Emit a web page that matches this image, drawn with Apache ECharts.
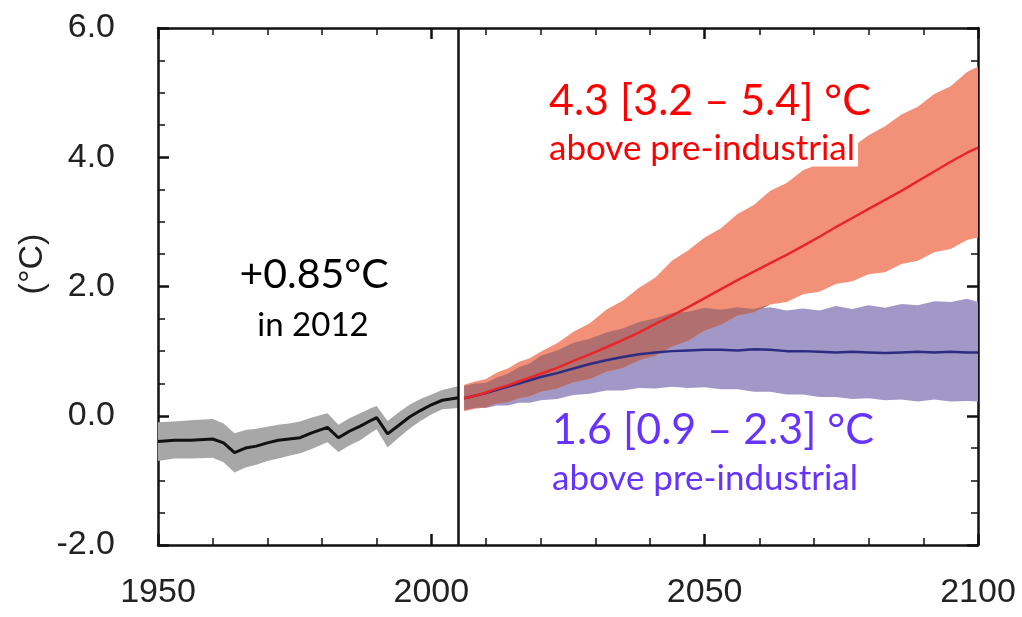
<!DOCTYPE html>
<html>
<head>
<meta charset="utf-8">
<script src="https://cdn.jsdelivr.net/npm/echarts@6/dist/echarts.min.js"></script>
<style>
html,body{margin:0;padding:0;background:#fff;}
#chart{width:1022px;height:617px;}
</style>
</head>
<body>
<div id="chart"></div>
<script>
// ---- Data ----
const xTicks = [1950, 2000, 2050, 2100];
const yTicks = [-2.0, 0.0, 2.0, 4.0, 6.0];

const histYears = [1950,1953,1956,1960,1962,1964,1966,1968,1970,1972,1974,1976,1978,1981,1983,1985,1987,1989,1990,1992,1994,1996,1998,2000,2002,2005];
const histMean  = [-0.40,-0.38,-0.38,-0.36,-0.42,-0.57,-0.50,-0.47,-0.42,-0.38,-0.36,-0.34,-0.27,-0.18,-0.34,-0.24,-0.16,-0.07,-0.03,-0.28,-0.15,-0.02,0.08,0.17,0.24,0.28];
const histLow   = [-0.70,-0.66,-0.66,-0.65,-0.72,-0.88,-0.80,-0.76,-0.70,-0.66,-0.62,-0.58,-0.52,-0.41,-0.56,-0.46,-0.38,-0.26,-0.21,-0.49,-0.34,-0.20,-0.08,0.02,0.10,0.12];
const histHigh  = [-0.10,-0.09,-0.07,-0.05,-0.12,-0.27,-0.22,-0.20,-0.17,-0.14,-0.12,-0.09,-0.03,0.04,-0.14,-0.04,0.04,0.12,0.15,-0.08,0.05,0.17,0.26,0.33,0.40,0.46];

const futureYears = [2006,2008,2010,2012,2014,2016,2018,2020,2023,2026,2029,2032,2035,2038,2041,2044,2047,2050,2053,2056,2059,2062,2065,2068,2071,2074,2077,2080,2083,2086,2089,2092,2095,2098,2100];

const rcp85Mean = [0.27,0.31,0.36,0.42,0.47,0.53,0.59,0.65,0.74,0.85,0.95,1.06,1.17,1.29,1.42,1.55,1.68,1.82,1.96,2.10,2.23,2.36,2.49,2.63,2.77,2.92,3.06,3.20,3.34,3.48,3.63,3.78,3.93,4.07,4.15];
const rcp85High = [0.48,0.53,0.57,0.67,0.73,0.83,0.89,0.99,1.12,1.30,1.43,1.64,1.78,1.98,2.14,2.40,2.56,2.76,2.90,3.12,3.26,3.48,3.60,3.80,3.90,4.06,4.16,4.34,4.48,4.66,4.78,4.98,5.10,5.32,5.40];
const rcp85Low  = [0.07,0.11,0.13,0.19,0.21,0.27,0.30,0.37,0.42,0.52,0.57,0.68,0.74,0.86,0.93,1.07,1.16,1.32,1.41,1.55,1.60,1.72,1.76,1.88,1.92,2.04,2.08,2.19,2.22,2.35,2.40,2.53,2.58,2.72,2.76];

const rcp26Mean = [0.27,0.31,0.35,0.40,0.45,0.50,0.55,0.60,0.66,0.73,0.80,0.86,0.91,0.95,0.98,1.00,1.01,1.02,1.02,1.01,1.03,1.02,1.00,1.00,0.99,0.98,0.99,0.98,0.97,0.98,0.99,0.98,0.99,0.98,0.98];
const rcp26High = [0.46,0.50,0.51,0.59,0.65,0.75,0.81,0.93,1.01,1.13,1.19,1.29,1.35,1.45,1.51,1.59,1.61,1.67,1.64,1.68,1.65,1.68,1.63,1.66,1.63,1.70,1.65,1.71,1.67,1.73,1.71,1.77,1.76,1.81,1.76];
const rcp26Low  = [0.09,0.12,0.12,0.16,0.16,0.20,0.20,0.24,0.26,0.32,0.34,0.39,0.39,0.43,0.42,0.45,0.43,0.44,0.41,0.41,0.37,0.37,0.33,0.33,0.29,0.29,0.26,0.27,0.24,0.25,0.22,0.25,0.22,0.23,0.22];

const divideYear = 2005;

// ---- Helpers ----
const zip = (xs, ys) => xs.map((x, i) => [x, ys[i]]);

function bandSeries(xs, lo, hi, color) {
  return {
    type: 'custom',
    coordinateSystem: 'cartesian2d',
    silent: true,
    data: [[xs[0], lo[0]]],
    renderItem: function (params, api) {
      const pts = [];
      for (let i = 0; i < xs.length; i++) pts.push(api.coord([xs[i], hi[i]]));
      for (let i = xs.length - 1; i >= 0; i--) pts.push(api.coord([xs[i], lo[i]]));
      return { type: 'polygon', shape: { points: pts }, style: { fill: color } };
    }
  };
}

// overlap of the two scenario bands
const overlapLow = futureYears.map((y, i) => Math.max(rcp85Low[i], rcp26Low[i]));
const overlapHigh = futureYears.map((y, i) => Math.max(overlapLow[i], Math.min(rcp85High[i], rcp26High[i])));

const tickFont = "'Liberation Sans',Arial,sans-serif";
const noteFont = "Lato,'Open Sans','Noto Sans',sans-serif";

function xAxisCfg(pos, showLabel) {
  return {
    type: 'value', position: pos, min: 1950, max: 2100, interval: 50,
    axisLine: { show: true, onZero: false, lineStyle: { color: '#111', width: 2.5 } },
    axisTick: { show: true, inside: true, length: 11, lineStyle: { color: '#111', width: 2.5 } },
    minorTick: { show: true, splitNumber: 5, length: 7, lineStyle: { color: '#111', width: 1.5 } },
    splitLine: { show: false },
    axisLabel: {
      show: showLabel, margin: 31, color: '#222', fontSize: 34, fontFamily: tickFont,
      formatter: v => xTicks.indexOf(v) >= 0 ? String(v) : ''
    }
  };
}
function yAxisCfg(pos, showLabel) {
  return {
    type: 'value', position: pos, min: -2, max: 6, interval: 2,
    axisLine: { show: true, onZero: false, lineStyle: { color: '#111', width: 2.5 } },
    axisTick: { show: true, inside: true, length: 11, lineStyle: { color: '#111', width: 2.5 } },
    minorTick: { show: true, splitNumber: 4, length: 7, lineStyle: { color: '#111', width: 1.5 } },
    splitLine: { show: false },
    axisLabel: {
      show: showLabel, margin: 43, color: '#222', fontSize: 34, fontFamily: tickFont,
      formatter: v => yTicks.indexOf(v) >= 0 ? v.toFixed(1) : ''
    }
  };
}

const chart = echarts.init(document.getElementById('chart'), null, { renderer: 'canvas' });

chart.setOption({
  animation: false,
  backgroundColor: '#fff',
  grid: { left: 158, right: 44, top: 28, bottom: 72, outerBoundsMode: 'none' },
  xAxis: [xAxisCfg('bottom', true), xAxisCfg('top', false)],
  yAxis: [yAxisCfg('left', true), yAxisCfg('right', false)],
  series: [
    bandSeries(histYears, histLow, histHigh, '#a7a7a7'),
    {
      type: 'line', data: zip(histYears, histMean), showSymbol: false, silent: true,
      lineStyle: { color: '#111', width: 3 },
      markLine: {
        silent: true, symbol: ['none', 'none'], label: { show: false },
        lineStyle: { color: '#111', width: 2.5, type: 'solid' },
        data: [{ xAxis: divideYear }]
      }
    },
    bandSeries(futureYears, rcp26Low, rcp26High, '#a198c7'),
    bandSeries(futureYears, rcp85Low, rcp85High, '#f29178'),
    bandSeries(futureYears, overlapLow, overlapHigh, '#b26f70'),
    {
      type: 'line', data: zip(futureYears, rcp26Mean), showSymbol: false, silent: true,
      lineStyle: { color: '#2c2c82', width: 2.5 }
    },
    {
      type: 'line', data: zip(futureYears, rcp85Mean), showSymbol: false, silent: true,
      lineStyle: { color: '#e8262a', width: 2.5 }
    }
  ],
  graphic: {
    elements: [
      { type: 'text', x: 33, y: 264, rotation: Math.PI / 2, silent: true,
        style: { text: '(°C)', fill: '#222', fontSize: 34, fontFamily: tickFont, align: 'center', verticalAlign: 'middle' } },
      { type: 'text', x: 314, y: 275, silent: true,
        style: { text: '+0.85°C', fill: '#000', fontSize: 41, fontFamily: noteFont, align: 'center', verticalAlign: 'middle' } },
      { type: 'text', x: 313, y: 325, silent: true,
        style: { text: 'in 2012', fill: '#000', fontSize: 33, fontFamily: noteFont, align: 'center', verticalAlign: 'middle' } },
      { type: 'text', x: 549, y: 101, silent: true,
        style: { text: '4.3 [3.2 – 5.4] °C', fill: '#ff0000', fontSize: 43, fontFamily: noteFont, align: 'left', verticalAlign: 'middle' } },
      { type: 'text', x: 549, y: 149, silent: true, z: 100,
        style: { text: 'above pre-industrial', fill: '#ff0000', fontSize: 35, fontFamily: noteFont, align: 'left', verticalAlign: 'middle',
                 backgroundColor: '#fff', padding: [0, 3, 0, 0] } },
      { type: 'text', x: 552, y: 430, silent: true,
        style: { text: '1.6 [0.9 – 2.3] °C', fill: '#6633ff', fontSize: 43, fontFamily: noteFont, align: 'left', verticalAlign: 'middle' } },
      { type: 'text', x: 552, y: 479, silent: true,
        style: { text: 'above pre-industrial', fill: '#6633ff', fontSize: 35, fontFamily: noteFont, align: 'left', verticalAlign: 'middle' } }
    ]
  }
});
</script>
</body>
</html>
